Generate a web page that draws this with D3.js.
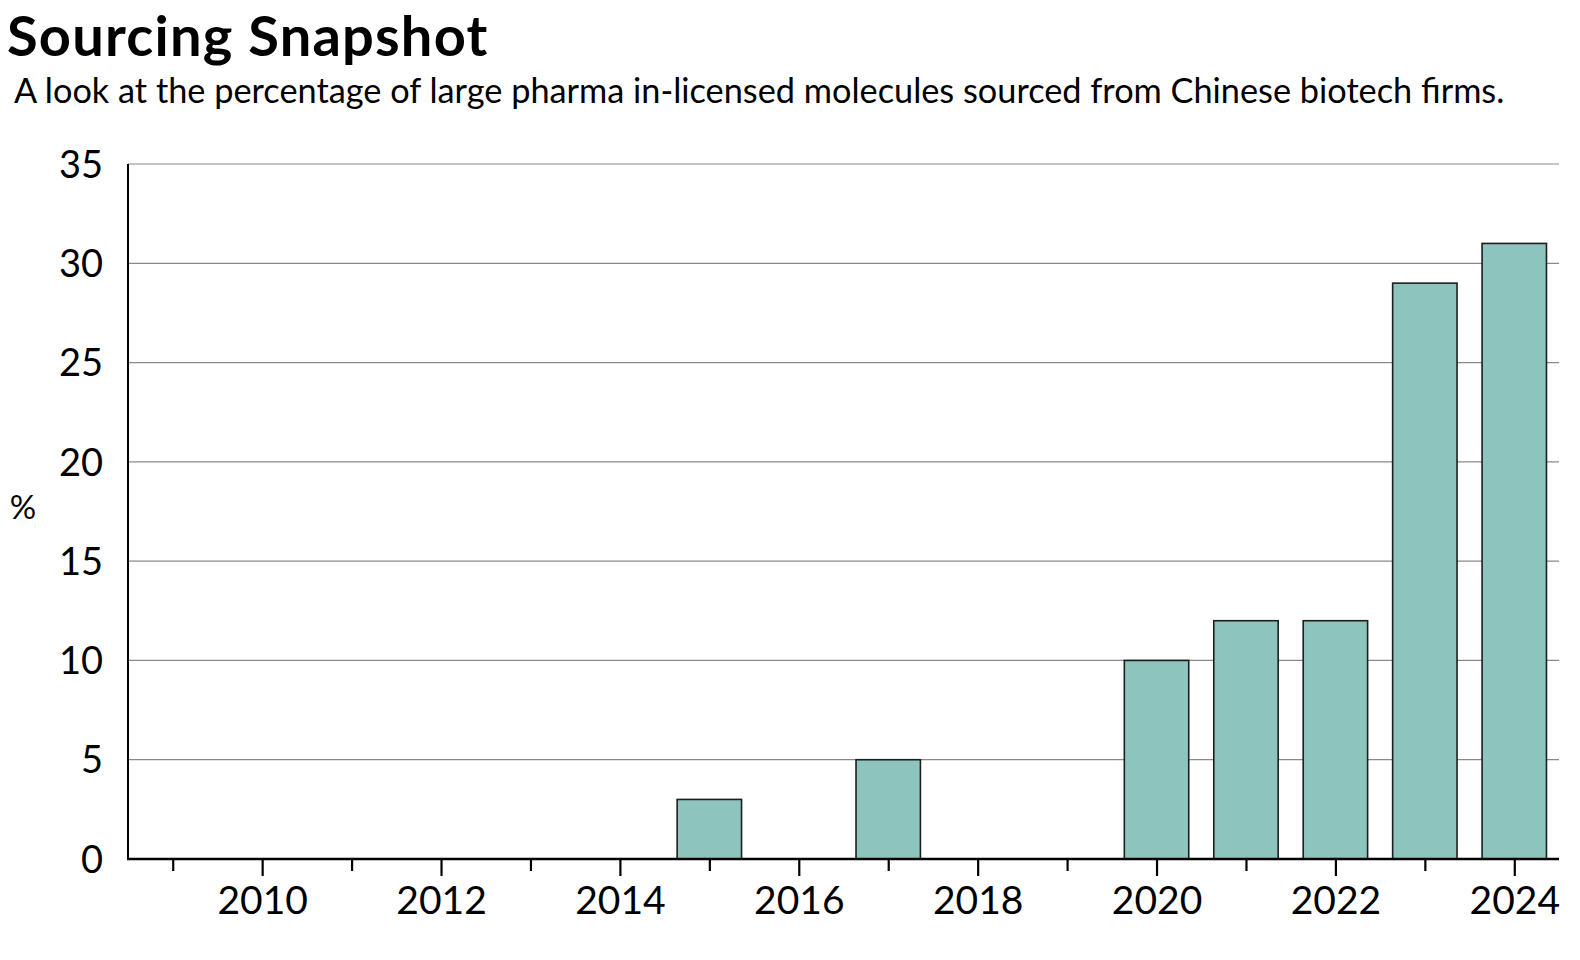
<!DOCTYPE html>
<html>
<head>
<meta charset="utf-8">
<script src="https://cdn.jsdelivr.net/npm/d3@7"></script>
<style>
  body { margin: 0; background: #fff; font-family: Lato, sans-serif; }
</style>
</head>
<body>
<div id="chart"></div>
<script>
// data
const years = [2009, 2010, 2011, 2012, 2013, 2014, 2015, 2016, 2017, 2018, 2019, 2020, 2021, 2022, 2023, 2024]
const share = [0, 0, 0, 0, 0, 0, 3, 0, 5, 0, 0, 10, 12, 12, 29, 31]
const yTicks = [0, 5, 10, 15, 20, 25, 30, 35]
const labelYears = [2010, 2012, 2014, 2016, 2018, 2020, 2022, 2024]

const data = years.map((y, i) => ({year: y, value: share[i]}))

// set the dimensions and margins of the graph
const margin = {top: 164, right: 21, bottom: 101, left: 128},
    width = 1580 - margin.left - margin.right,
    height = 960 - margin.top - margin.bottom;

const root = d3.select("#chart")
  .append("svg")
    .attr("width", 1580)
    .attr("height", 960)

// title and subtitle
root.append("text")
  .attr("x", 7)
  .attr("y", 55.5)
  .text("Sourcing Snapshot")
  .style("font-size", "56px").style("font-weight", "bold")
  .style("letter-spacing", "1.2px")

root.append("text")
  .attr("x", 14)
  .attr("y", 103)
  .text("A look at the percentage of large pharma in-licensed molecules sourced from Chinese biotech firms.")
  .style("font-size", "34.3px")

const svg = root.append("g")
  .attr("transform", `translate(${margin.left}, ${margin.top})`);

// x scale, one unit per year
const x = d3.scaleLinear()
  .domain([2008.5, 2024.5])
  .range([0, width])

const y = d3.scaleLinear()
  .domain([0, 35])
  .range([height, 0])

// gridlines
svg.append("g")
  .selectAll("line")
  .data(yTicks.filter(d => d > 0))
  .enter()
  .append("line")
    .attr("x1", 0)
    .attr("x2", width)
    .attr("y1", d => y(d))
    .attr("y2", d => y(d))
    .attr("stroke", "#8a8a8a")
    .attr("stroke-width", 1.2)

// y labels
svg.append("g")
  .selectAll("text")
  .data(yTicks)
  .enter()
  .append("text")
    .attr("x", -25)
    .attr("y", d => y(d))
    .attr("dy", "0.36em")
    .attr("text-anchor", "end")
    .text(d => d)
    .style("font-size", "38px")

// y axis label
root.append("text")
  .attr("x", 23)
  .attr("y", 507)
  .attr("dy", "0.36em")
  .attr("text-anchor", "middle")
  .text("%")
  .style("font-size", "33px")

// bars
const barW = x(2009.36) - x(2008.64)
svg.append("g")
  .selectAll("rect")
  .data(data)
  .enter()
  .append("rect")
    .attr("x", d => x(d.year) - barW / 2)
    .attr("y", d => y(d.value))
    .attr("width", barW)
    .attr("height", d => y(0) - y(d.value))
    .attr("fill", "#8dc4bd")
    .attr("stroke", "#1e1e1e")
    .attr("stroke-width", 1.6)

// x axis with ticks, longer on labelled years
const xAxis = svg.append("g")
  .attr("transform", `translate(0, ${height})`)
  .call(d3.axisBottom(x)
    .tickValues(years)
    .tickSize(0)
    .tickPadding(27)
    .tickFormat(d => labelYears.includes(d) ? d : ""))

xAxis.select(".domain").remove()
xAxis.selectAll(".tick text")
  .style("font-size", "39px")
  .style("font-family", "Lato, sans-serif")
  .attr("fill", "#000")
xAxis.selectAll(".tick line")
  .attr("y2", d => labelYears.includes(d) ? 17 : 12)
  .attr("stroke", "#000")
  .attr("stroke-width", 2.2)

// axis lines
svg.append("line")
  .attr("x1", 0).attr("x2", 0)
  .attr("y1", 0).attr("y2", height)
  .attr("stroke", "#000").attr("stroke-width", 2)

svg.append("line")
  .attr("x1", -1).attr("x2", width)
  .attr("y1", height).attr("y2", height)
  .attr("stroke", "#000").attr("stroke-width", 2.6)
</script>
</body>
</html>
